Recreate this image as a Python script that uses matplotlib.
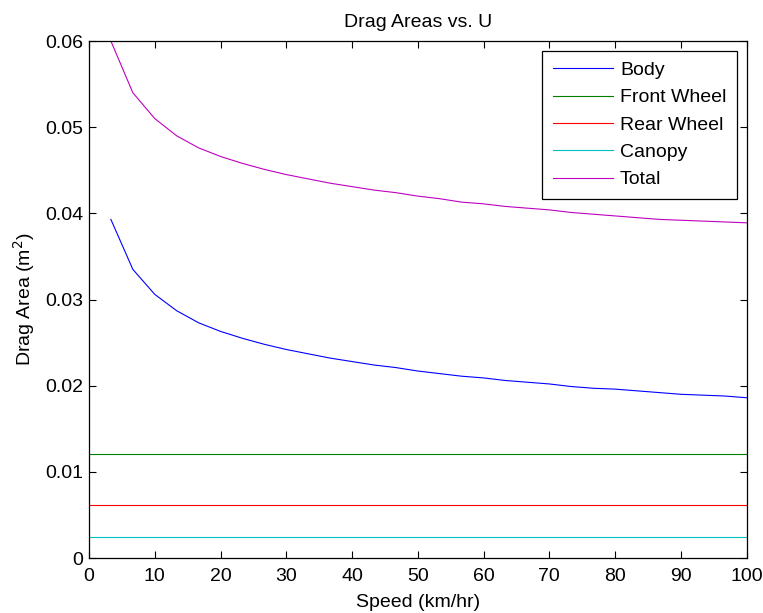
import matplotlib
matplotlib.use("Agg")
import matplotlib.pyplot as plt
import numpy as np

plt.rcParams['font.family'] = ['Liberation Sans', 'DejaVu Sans']

# Speed samples (km/hr)
speed = [3.33, 6.67, 10.0, 13.33, 16.67, 20.0, 23.33, 26.67, 30.0, 33.33,
         36.67, 40.0, 43.33, 46.67, 50.0, 53.33, 56.67, 60.0, 63.33, 66.67,
         70.0, 73.33, 76.67, 80.0, 83.33, 86.67, 90.0, 93.33, 96.67, 100.0]

# Drag areas (m^2)
body = [0.0393, 0.0335, 0.0306, 0.0287, 0.0273, 0.0263, 0.0255, 0.0248, 0.0242, 0.0237,
        0.0232, 0.0228, 0.0224, 0.0221, 0.0217, 0.0214, 0.0211, 0.0209, 0.0206, 0.0204,
        0.0202, 0.0199, 0.0197, 0.0196, 0.0194, 0.0192, 0.0190, 0.0189, 0.0188, 0.0186]
total = [0.0600, 0.0540, 0.0510, 0.0490, 0.0476, 0.0466, 0.0458, 0.0451, 0.0445, 0.0440,
         0.0435, 0.0431, 0.0427, 0.0424, 0.0420, 0.0417, 0.0413, 0.0411, 0.0408, 0.0406,
         0.0404, 0.0401, 0.0399, 0.0397, 0.0395, 0.0393, 0.0392, 0.0391, 0.0390, 0.0389]
front_wheel = 0.0121
rear_wheel = 0.0061
canopy = 0.0024

x_ticks = [0, 10, 20, 30, 40, 50, 60, 70, 80, 90, 100]
y_ticks = [0, 0.01, 0.02, 0.03, 0.04, 0.05, 0.06]
y_tick_labels = ['0', '0.01', '0.02', '0.03', '0.04', '0.05', '0.06']

fs = 14

fig = plt.figure(figsize=(7.63, 6.13), dpi=100)
ax = fig.add_axes([0.1166, 0.0897, 0.862, 0.8434])

lw = 0.8
ax.plot(speed, body, color='b', lw=lw, label='Body')
ax.axhline(front_wheel, color='g', lw=lw, label='Front Wheel')
ax.axhline(rear_wheel, color='r', lw=lw, label='Rear Wheel')
ax.axhline(canopy, color='c', lw=lw, label='Canopy')
ax.plot(speed, total, color='m', lw=lw, label='Total')

ax.set_xlim(0, 100)
ax.set_ylim(0, 0.06)
ax.set_xticks(x_ticks)
ax.set_yticks(y_ticks)
ax.set_yticklabels(y_tick_labels)
ax.tick_params(direction='in', length=5, width=0.8, top=True, right=True,
               labelsize=fs)
ax.tick_params(axis='x', pad=7)
ax.tick_params(axis='y', pad=4)
for s in ax.spines.values():
    s.set_linewidth(0.9)

ax.set_title('Drag Areas vs. U', fontsize=fs, pad=10)
ax.set_xlabel('Speed (km/hr)', fontsize=fs, labelpad=7)
ax.set_ylabel('Drag Area (m$^2$)', fontsize=fs, labelpad=6)

leg = ax.legend(loc='upper right', fontsize=fs, frameon=True, fancybox=False,
                edgecolor='black', framealpha=1, borderaxespad=0.5,
                handlelength=3.1, handletextpad=0.35, labelspacing=0.5,
                borderpad=0.55)
leg.get_frame().set_linewidth(0.9)

fig.savefig('out.png', dpi=100)
